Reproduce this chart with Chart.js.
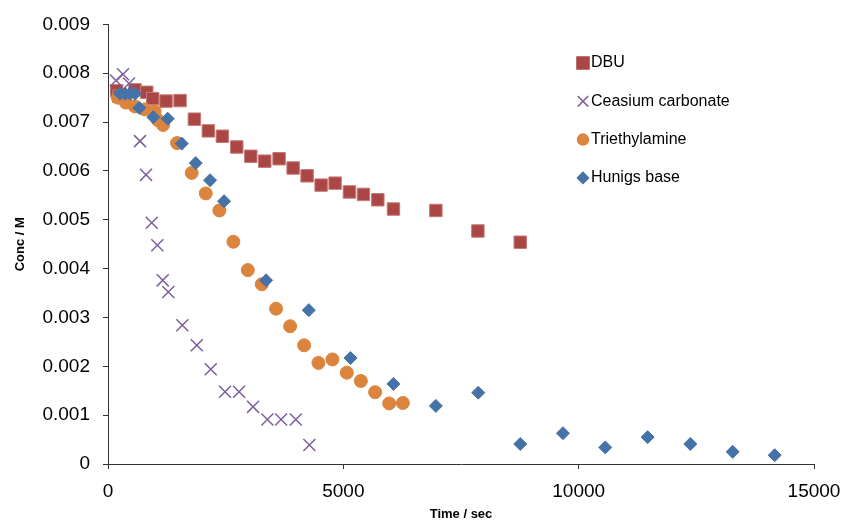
<!DOCTYPE html>
<html>
<head>
<meta charset="utf-8">
<script src="https://cdn.jsdelivr.net/npm/chart.js@4/dist/chart.umd.min.js"></script>
<style>
  html, body { margin: 0; padding: 0; background: #fff; }
  #wrap { width: 847px; height: 522px; }
</style>
</head>
<body>
<div id="wrap"><canvas id="concChart" width="847" height="522"></canvas></div>
<script>
const seriesNames = ['DBU', 'Ceasium carbonate', 'Triethylamine', 'Hunigs base'];

const dbuTime = [185, 230, 574, 823, 950, 1233, 1531, 1835, 2132, 2430, 2736, 3034, 3331, 3635, 3933, 4230, 4528, 4825, 5129, 5427, 5733, 6065, 6966, 7859, 8759];
const dbuConc = [0.00764, 0.00753, 0.00766, 0.00761, 0.00748, 0.00743, 0.00744, 0.00706, 0.00682, 0.00671, 0.00649, 0.00630, 0.00620, 0.00625, 0.00606, 0.00590, 0.00571, 0.00575, 0.00557, 0.00552, 0.00541, 0.00522, 0.00519, 0.00477, 0.00454];

const csTime = [170, 319, 446, 680, 808, 929, 1048, 1163, 1282, 1579, 1886, 2183, 2487, 2785, 3082, 3386, 3678, 3990, 4279];
const csConc = [0.00785, 0.00798, 0.00779, 0.00661, 0.00592, 0.00494, 0.00448, 0.00376, 0.00352, 0.00284, 0.00243, 0.00194, 0.00148, 0.00148, 0.00117, 0.00091, 0.00091, 0.00091, 0.00039];

const teaTime = [210, 380, 570, 780, 990, 1060, 1170, 1467, 1779, 2077, 2366, 2664, 2970, 3267, 3571, 3869, 4167, 4471, 4768, 5074, 5372, 5676, 5974, 6265];
const teaConc = [0.00750, 0.00740, 0.00732, 0.00726, 0.00722, 0.00704, 0.00694, 0.00657, 0.00596, 0.00554, 0.00519, 0.00455, 0.00397, 0.00368, 0.00318, 0.00282, 0.00243, 0.00207, 0.00214, 0.00187, 0.00170, 0.00147, 0.00124, 0.00125];

const hunTime = [255, 361, 468, 574, 665, 963, 1269, 1567, 1864, 2168, 2466, 3359, 4267, 5151, 6065, 6966, 7866, 8759, 9666, 10565, 11465, 12372, 13272, 14165];
const hunConc = [0.00758, 0.00758, 0.00758, 0.00758, 0.00729, 0.00710, 0.00707, 0.00656, 0.00616, 0.00581, 0.00538, 0.00376, 0.00315, 0.00217, 0.00164, 0.00119, 0.00146, 0.00041, 0.00063, 0.00034, 0.00055, 0.00041, 0.00025, 0.00018];

const xTicks = [0, 5000, 10000, 15000];

const toPoints = (xs, ys) => xs.map((x, i) => ({ x, y: ys[i] }));

const red = '#AA4643';
const purple = '#7D5F9E';
const orange = '#DB843D';
const blue = '#4572A7';

// legend sits inside the plot, like the original
const legendItems = [
  { style: 'rect', color: red, r: 8.5 },
  { style: 'crossRot', color: purple, r: 7.5 },
  { style: 'circle', color: orange, r: 5.5 },
  { style: 'rectRot', color: blue, r: 5.5 }
];

const insideLegend = {
  id: 'insideLegend',
  afterDraw(chart) {
    const ctx = chart.ctx;
    ctx.save();
    ctx.font = '16px "Liberation Sans", Arial, sans-serif';
    ctx.textBaseline = 'middle';
    ctx.textAlign = 'left';
    legendItems.forEach((it, i) => {
      const y = 63 + i * 38.3;
      ctx.fillStyle = it.color;
      ctx.strokeStyle = it.color;
      ctx.lineWidth = 1.5;
      Chart.helpers.drawPoint(ctx, { pointStyle: it.style, rotation: 0, radius: it.r, borderWidth: 1.5 }, 583, y);
      ctx.fillStyle = '#000';
      ctx.fillText(seriesNames[i], 591, y);
    });
    ctx.restore();
  }
};

const ctxEl = document.getElementById('concChart');

const data = {
  datasets: [{
    label: seriesNames[0],
    data: toPoints(dbuTime, dbuConc),
    pointStyle: 'rect',
    pointRadius: 8.8,
    backgroundColor: red,
    borderColor: '#C47A78',
    borderWidth: 1,
    order: 4
  }, {
    label: seriesNames[1],
    data: toPoints(csTime, csConc),
    pointStyle: 'crossRot',
    pointRadius: 8.5,
    backgroundColor: purple,
    borderColor: purple,
    borderWidth: 1.5,
    order: 3
  }, {
    label: seriesNames[2],
    data: toPoints(teaTime, teaConc),
    pointStyle: 'circle',
    pointRadius: 6.5,
    backgroundColor: orange,
    borderColor: orange,
    borderWidth: 1,
    order: 2
  }, {
    label: seriesNames[3],
    data: toPoints(hunTime, hunConc),
    pointStyle: 'rectRot',
    pointRadius: 6.5,
    backgroundColor: blue,
    borderColor: blue,
    borderWidth: 1,
    order: 1
  }]
};

const tickFont = { family: '"Liberation Sans", Arial, sans-serif', size: 19 };
const titleFont = { family: '"Liberation Sans", Arial, sans-serif', size: 13, weight: 'bold' };

const options = {
  responsive: false,
  animation: false,
  layout: { padding: { top: 24, right: 33, left: 0, bottom: 0 } },
  plugins: {
    legend: { display: false },
    tooltip: { enabled: false }
  },
  scales: {
    x: {
      type: 'linear',
      min: 0,
      max: 15000,
      afterBuildTicks: (axis) => { axis.ticks = xTicks.map(v => ({ value: v })); },
      afterFit: (axis) => {
        axis.height = 58;
        axis.paddingLeft = 0;
        axis.paddingRight = 0;
      },
      border: { display: true, color: '#333', width: 1 },
      grid: { display: true, drawOnChartArea: false, drawTicks: true, tickLength: 5, color: '#333' },
      ticks: { font: tickFont, color: '#000', padding: 11, maxRotation: 0, callback: (v) => String(v) },
      title: { display: true, text: 'Time / sec', font: titleFont, color: '#000', padding: { top: 0, bottom: 0 } }
    },
    y: {
      type: 'linear',
      min: 0,
      max: 0.009,
      afterFit: (axis) => { axis.width = 108; },
      border: { display: true, color: '#333', width: 1 },
      grid: { display: true, drawOnChartArea: false, drawTicks: true, tickLength: 5, color: '#333' },
      ticks: {
        stepSize: 0.001,
        font: tickFont,
        color: '#000',
        padding: 13,
        callback: (v) => v === 0 ? '0' : v.toFixed(3)
      },
      title: { display: true, text: 'Conc / M', font: titleFont, color: '#000', padding: { top: 13, bottom: 0 } }
    }
  }
};

new Chart(ctxEl, {
  type: 'scatter',
  data,
  options,
  plugins: [insideLegend]
});
</script>
</body>
</html>
